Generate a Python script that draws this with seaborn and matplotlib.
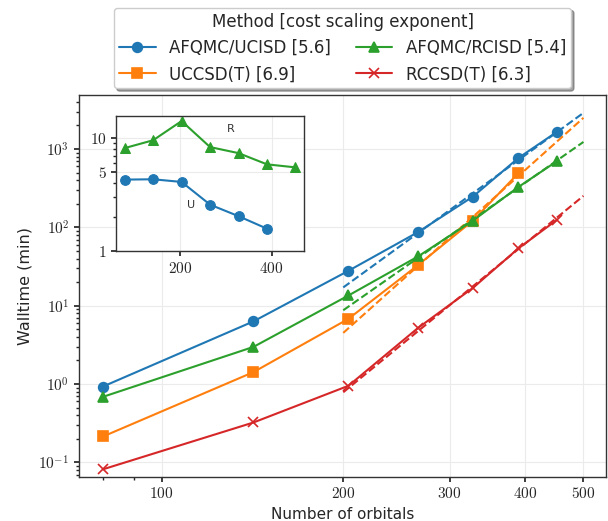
import numpy as np
import matplotlib
matplotlib.use("Agg")
import matplotlib.pyplot as plt
from matplotlib.ticker import FixedLocator, FuncFormatter, LogLocator, NullFormatter
import seaborn as sns

# Walltime (min) vs number of orbitals
orbitals = [80, 142, 204, 266, 328, 390, 452]
afqmc_u = [0.93, 6.31, 27.9, 87.0, 247, 768, 1660]
uccsdt = [0.214, 1.42, 6.8, 33.0, 122, 492]
afqmc_r = [0.687, 2.98, 13.5, 42.5, 122, 327, 701]
rccsdt = [0.0816, 0.323, 0.95, 5.2, 16.9, 53.8, 125]

labels = ["AFQMC/UCISD [5.6]", "UCCSD(T) [6.9]", "AFQMC/RCISD [5.4]", "RCCSD(T) [6.3]"]
exponents = [5.6, 6.9, 5.4, 6.3]
colors = ["#1f77b4", "#ff7f0e", "#2ca02c", "#d62728"]
markers = ["o", "s", "^", "x"]
fit_range = [200, 500]

# inset: AFQMC / CCSD(T) time ratios
ratio_u = [4.30, 4.33, 4.10, 2.58, 2.04, 1.58]
ratio_r = [8.18, 9.6, 14.2, 8.35, 7.38, 5.87, 5.52]

sns.set_theme(style="whitegrid", rc={
    "axes.edgecolor": "0.2",
    "axes.linewidth": 1.0,
    "grid.color": "0.92",
    "grid.linewidth": 0.8,
    "xtick.bottom": True,
    "ytick.left": True,
    "xtick.color": "0.15",
    "ytick.color": "0.15",
    "xtick.major.size": 3.5,
    "ytick.major.size": 3.5,
    "xtick.minor.size": 2,
    "ytick.minor.size": 2,
    "mathtext.fontset": "cm",
})
plt.rcParams["font.family"] = ["DejaVu Sans"]

fig = plt.figure(figsize=(6.08, 5.21), dpi=100)
ax = fig.add_axes([0.13, 0.0854, 0.8668, 0.7323])

series = [afqmc_u, uccsdt, afqmc_r, rccsdt]
handles = []
for vals, lab, p, c, m in zip(series, labels, exponents, colors, markers):
    x = orbitals[:len(vals)]
    sns.lineplot(x=x, y=vals, ax=ax, color=c, marker=m, markersize=7,
                 markeredgecolor=c, markeredgewidth=1.2, linewidth=1.5)
    handles.append(ax.lines[-1])
    # power-law fit with the quoted exponent, intercept from the larger systems
    lx = np.log10(x[3:])
    ly = np.log10(vals[3:])
    c0 = np.mean(ly - p * lx)
    fx = np.array(fit_range, dtype=float)
    sns.lineplot(x=fx, y=10 ** c0 * fx ** p, ax=ax, color=c, linestyle="--",
                 linewidth=1.5)

ax.set(xscale="log", yscale="log")
ax.set_xlim(73, 545)
ax.set_ylim(0.066, 4900)
ax.xaxis.set_major_locator(FixedLocator([100, 200, 300, 400, 500]))
ax.xaxis.set_major_formatter(FuncFormatter(lambda v, p: r"$%d$" % v))
ax.xaxis.set_minor_locator(LogLocator(base=10, subs=np.arange(2, 10)))
ax.xaxis.set_minor_formatter(NullFormatter())
ax.yaxis.set_major_locator(LogLocator(base=10))
ax.yaxis.set_major_formatter(FuncFormatter(lambda v, p: r"$10^{%d}$" % round(np.log10(v))))
ax.yaxis.set_minor_locator(LogLocator(base=10, subs=np.arange(2, 10), numticks=20))
ax.yaxis.set_minor_formatter(NullFormatter())
ax.tick_params(which="both", labelsize=11)
ax.set_xlabel("Number of orbitals", fontsize=11)
ax.set_ylabel("Walltime (min)", fontsize=11.5)

leg = ax.legend(handles, labels, ncol=2, loc="lower center",
                bbox_to_anchor=(0.5, 1.0), fontsize=12,
                title="Method [cost scaling exponent]", title_fontsize=12,
                shadow=True, fancybox=True, framealpha=1, edgecolor="0.8",
                columnspacing=1.5, handlelength=2.2, borderaxespad=0.4,
                borderpad=0.3)

# inset
ins = fig.add_axes([0.191, 0.518, 0.309, 0.260])
sns.lineplot(x=orbitals[:len(ratio_u)], y=ratio_u, ax=ins, color=colors[0],
             marker="o", markersize=7, markeredgecolor=colors[0], linewidth=1.5)
sns.lineplot(x=orbitals, y=ratio_r, ax=ins, color=colors[2],
             marker="^", markersize=7, markeredgecolor=colors[2], linewidth=1.5)
ins.set_yscale("log")
ins.set_ylim(bottom=1)
ins.yaxis.set_major_locator(FixedLocator([1, 5, 10]))
ins.yaxis.set_major_formatter(FuncFormatter(lambda v, p: r"$%d$" % v))
ins.yaxis.set_minor_locator(LogLocator(base=10, subs=np.arange(2, 10)))
ins.yaxis.set_minor_formatter(NullFormatter())
ins.xaxis.set_major_locator(FixedLocator([200, 400]))
ins.xaxis.set_major_formatter(FuncFormatter(lambda v, p: r"$%d$" % v))
ins.tick_params(which="both", labelsize=11)
ins.text(310, 12.0, "R", fontsize=8, color="0.2", ha="center", va="center")
ins.text(225, 2.54, "U", fontsize=8, color="0.2", ha="center", va="center")

fig.savefig("out.png", dpi=100)
